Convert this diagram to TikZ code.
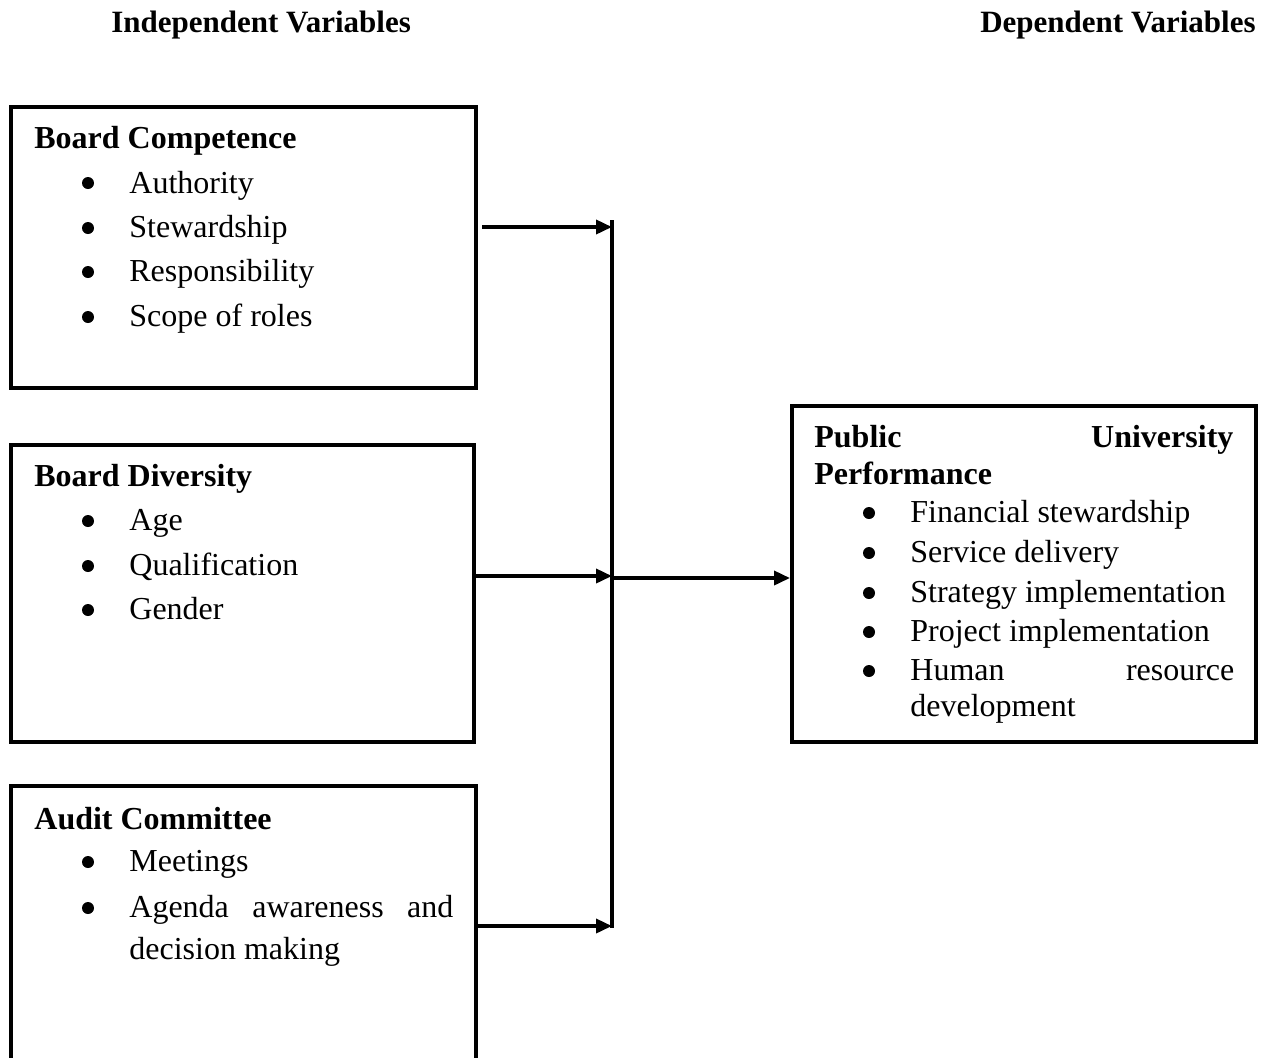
\documentclass[tikz,border=0pt]{standalone}
\usepackage{fontspec}
\setmainfont{Liberation Serif}
\usetikzlibrary{arrows.meta}
\begin{document}
\begin{tikzpicture}[x=0.5pt,y=-0.5pt,
  box/.style={draw,line width=2pt,inner sep=0pt},
  body/.style={anchor=base west,inner sep=0pt,font=\fontsize{16pt}{19pt}\selectfont},
  head/.style={anchor=base west,inner sep=0pt,font=\fontsize{16pt}{19pt}\selectfont\bfseries},
  top/.style={inner sep=0pt,font=\fontsize{15.5pt}{18pt}\selectfont\bfseries},
  dot/.style={circle,fill,inner sep=0pt,minimum size=6pt},
  arr/.style={line width=1.8pt,-{Triangle[length=8pt,width=7pt]}},
  ln/.style={line width=2pt}]
\useasboundingbox (0,0) rectangle (1271,1057);
\clip (0,0) rectangle (1271,1057);
% titles
\node[top,anchor=base west] (tI) at (111,32) {Independent Variables};
\node[top,anchor=base east] (tD) at (1256,32) {Dependent Variables};
% boxes
\node[box,minimum width=232.5pt,minimum height=140.5pt] (b1) at (243.5,247.5) {};
\node[box,minimum width=231.5pt,minimum height=148.5pt] (b2) at (242.5,593.5) {};
\node[box,minimum width=232.5pt,minimum height=157pt] (b3) at (243.5,943) {};
\node[box,minimum width=232pt,minimum height=168pt] (b4) at (1024,574) {};
% box 1 text
\node[head] (h1) at (34,148) {Board Competence};
\node[dot] (p11) at (88,183) {};
\node[body] (t11) at (129,193) {Authority};
\node[dot] (p12) at (88,228) {};
\node[body] (t12) at (129,237) {Stewardship};
\node[dot] (p13) at (88,272) {};
\node[body] (t13) at (129,281) {Responsibility};
\node[dot] (p14) at (88,317) {};
\node[body] (t14) at (129,326) {Scope of roles};
% box 2 text
\node[head] (h2) at (34,486) {Board Diversity};
\node[dot] (p21) at (88,521) {};
\node[body] (t21) at (129,530) {Age};
\node[dot] (p22) at (88,566) {};
\node[body] (t22) at (129,575) {Qualification};
\node[dot] (p23) at (88,610) {};
\node[body] (t23) at (129,619) {Gender};
% box 3 text
\node[head] (h3) at (34,829) {Audit Committee};
\node[dot] (p31) at (88,862) {};
\node[body] (t31) at (129,871) {Meetings};
\node[dot] (p32) at (88,908) {};
\node[body] (t32) at (129,917) {\makebox[162pt][s]{Agenda awareness and}};
\node[body] (t33) at (129,959) {decision making};
% box 4 text
\node[head] (h4a) at (814,447) {\makebox[209.5pt][s]{Public University}};
\node[head] (h4b) at (814,484) {Performance};
\node[dot] (p41) at (869,513) {};
\node[body] (t41) at (910,522) {Financial stewardship};
\node[dot] (p42) at (869,553) {};
\node[body] (t42) at (910,562) {Service delivery};
\node[dot] (p43) at (869,593) {};
\node[body] (t43) at (910,602) {Strategy implementation};
\node[dot] (p44) at (869,632) {};
\node[body] (t44) at (910,641) {Project implementation};
\node[dot] (p45) at (869,671) {};
\node[body] (t45) at (910,680) {\makebox[162pt][s]{Human resource}};
\node[body] (t46) at (910,716) {development};
% connectors
\coordinate (jt) at (612,220);
\coordinate (jb) at (612,928);
\coordinate (j1) at (612,227);
\coordinate (j2) at (612,576);
\coordinate (j3) at (612,926);
\coordinate (j4) at (614,578);
\draw[ln] (jt) -- (jb);
\draw[arr] ([xshift=2pt]b1.east |- j1) -- (j1);
\draw[arr] (b2.east |- j2) -- (j2);
\draw[arr] (b3.east |- j3) -- (j3);
\draw[arr] (j4) -- (b4.west |- j4);
\end{tikzpicture}
\end{document}
